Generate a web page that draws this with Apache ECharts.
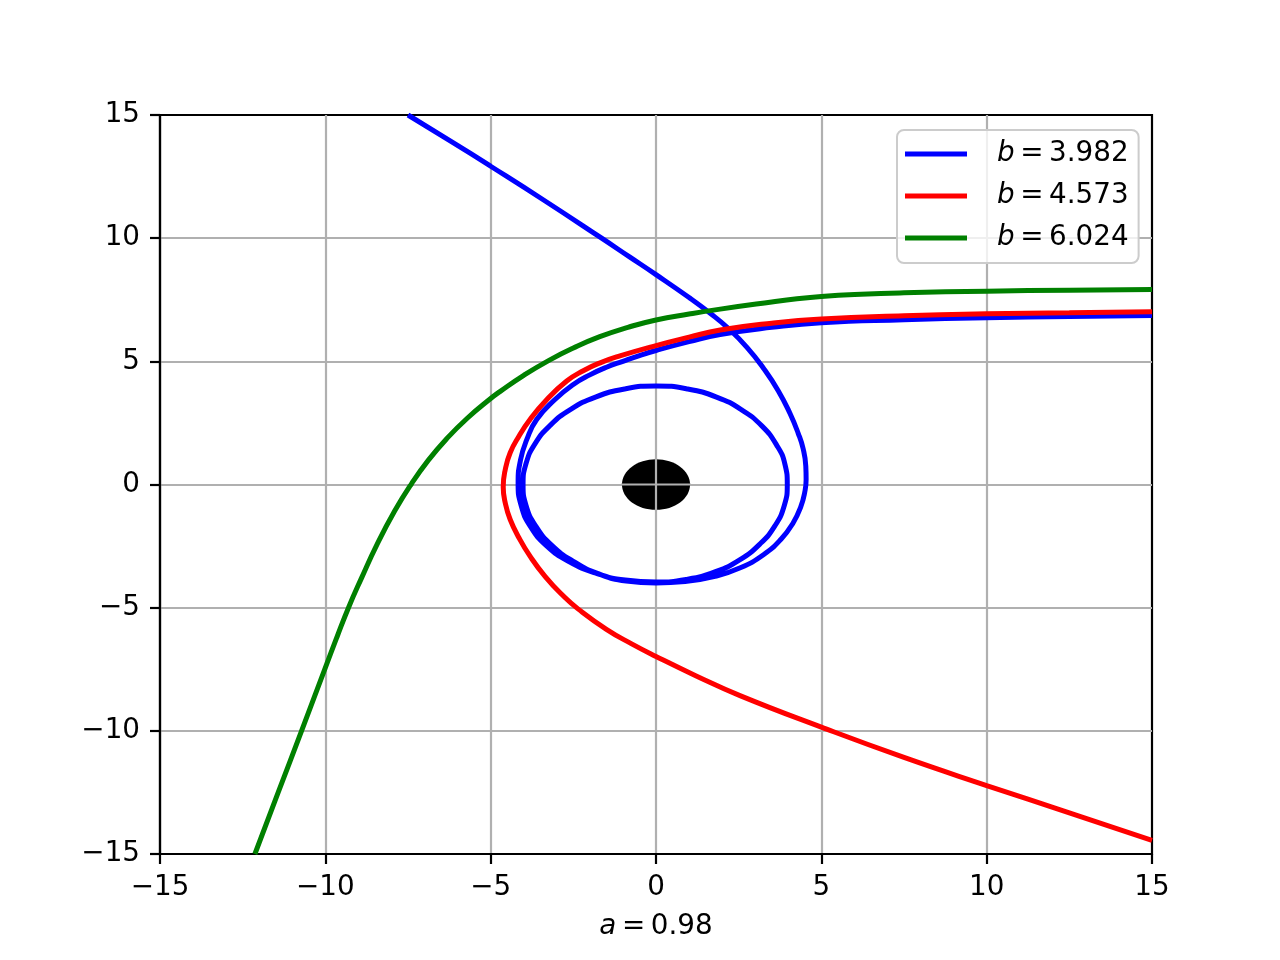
<!DOCTYPE html>
<html>
<head>
<meta charset="utf-8">
<script src="https://cdn.jsdelivr.net/npm/echarts@6/dist/echarts.min.js"></script>
<style>
html,body{margin:0;padding:0;background:#ffffff;}
#chart{width:1280px;height:960px;}
</style>
</head>
<body>
<div id="chart"></div>
<script>
// ---- data ----
const axisRange = [-15, 15];
const tickStep = 5;
const seriesNames = ['b = 3.982', 'b = 4.573', 'b = 6.024'];
const xAxisTitle = 'a = 0.98';

// black hole disk: [centerX, centerY, radius]
const horizon = [[0, 0, 1.03]];

const blueTrajectory = [
  [-7.5,15.0],[-6.2,13.93],[-5.0,12.92],[-3.4,11.55],[-1.69,10.04],[-0.8,9.24],[0.0,8.52],
  [1.0,7.59],[1.63,6.96],[2.16,6.37],[2.75,5.57],[3.25,4.72],[3.7,3.8],[4.05,2.89],
  [4.3,2.08],[4.45,1.45],[4.53,0.75],[4.54,0.2],[4.5,-0.3],[4.38,-0.9],[4.15,-1.55],
  [3.78,-2.22],[3.25,-2.85],[2.55,-3.38],[1.75,-3.74],[0.88,-3.94],[0.0,-4.0],
  [-0.9,-3.92],[-1.75,-3.62],[-2.5,-3.12],[-3.15,-2.47],[-3.63,-1.7],[-3.93,-0.85],
  [-4.02,0.0],[-3.93,0.85],[-3.66,1.65],[-3.2,2.4],[-2.58,3.05],[-1.83,3.55],[-0.95,3.88],
  [0.0,4.0],[0.95,3.88],[1.83,3.55],[2.58,3.04],[3.2,2.38],[3.64,1.62],[3.9,0.82],
  [3.97,0.0],[3.88,-0.85],[3.6,-1.67],[3.14,-2.42],[2.53,-3.06],[1.8,-3.54],[0.93,-3.85],
  [0.0,-3.96],
  [-0.93,-3.88],[-1.82,-3.6],[-2.62,-3.14],[-3.3,-2.5],[-3.8,-1.7],[-4.08,-0.85],
  [-4.17,0.05],[-4.1,0.98],[-3.9,1.85],[-3.61,2.64],[-3.08,3.42],[-2.5,4.06],[-2.0,4.45],
  [-1.5,4.76],[-1.0,5.0],[-0.5,5.23],[0.0,5.44],[1.0,5.8],[1.94,6.09],[3.5,6.38],
  [5.0,6.57],[7.5,6.69],[10.0,6.77],[12.5,6.82],[15.0,6.86]
];

const redTrajectory = [
  [15.0,7.01],[12.5,6.97],[10.0,6.93],[7.5,6.85],[5.0,6.72],[3.5,6.55],[1.94,6.27],
  [1.0,5.98],[0.0,5.64],[-1.09,5.22],[-1.69,4.94],[-2.2,4.62],[-2.7,4.2],[-3.3,3.45],
  [-3.81,2.64],[-4.15,1.95],[-4.41,1.29],[-4.56,0.6],[-4.62,-0.1],[-4.55,-0.8],
  [-4.41,-1.42],[-4.15,-2.15],[-3.81,-2.91],[-3.35,-3.74],[-2.8,-4.53],[-2.35,-5.06],
  [-1.5,-5.88],[-0.75,-6.46],[0.0,-6.98],[1.2,-7.76],[2.54,-8.57],[5.0,-9.85],
  [7.5,-11.08],[10.0,-12.22],[12.5,-13.33],[15.0,-14.45]
];

const greenTrajectory = [
  [15.0,7.92],[12.5,7.89],[10.0,7.85],[7.5,7.78],[6.2,7.72],[5.0,7.63],[4.2,7.53],
  [3.5,7.41],[1.94,7.12],[1.0,6.92],[0.0,6.68],[-0.85,6.38],[-1.7,6.0],[-2.5,5.54],
  [-3.25,5.03],[-4.0,4.43],[-4.72,3.77],[-5.0,3.49],[-5.7,2.7],[-6.33,1.86],[-6.9,0.96],
  [-7.39,0.04],[-7.9,-1.07],[-8.45,-2.47],[-8.9,-3.78],[-9.3,-5.0],[-9.65,-6.2],
  [-10.01,-7.47],[-10.71,-9.97],[-11.42,-12.48],[-12.13,-15.0]
];

const trajectories = [blueTrajectory, redTrajectory, greenTrajectory];
const colors = ['#0000ff', '#ff0000', '#008000'];

// ---- chart ----
const FONT = 'DejaVu Sans';
const FS = 27.8;
const LW = 5.0;
const THIN = '\u2009';
const fmtTick = v => String(v).replace('-', '\u2212');
const mathText = s => s.replace(/ /g, THIN);

const chart = echarts.init(document.getElementById('chart'), null, {renderer: 'canvas'});

const lineSeries = trajectories.map((d, i) => ({
  name: seriesNames[i],
  type: 'line',
  data: d,
  showSymbol: false,
  symbol: 'none',
  smooth: 0.5,
  clip: true,
  lineStyle: {color: colors[i], width: LW},
  itemStyle: {color: colors[i]},
  z: 3 + i
}));

const axisCommon = {
  type: 'value',
  min: axisRange[0],
  max: axisRange[1],
  interval: tickStep,
  axisLine: {show: true, onZero: false, lineStyle: {color: '#000', width: 2.2}},
  axisTick: {show: true, inside: false, length: 10, lineStyle: {color: '#000', width: 2.2}},
  splitLine: {show: true, showMinLine: false, showMaxLine: false, lineStyle: {color: '#b0b0b0', width: 2.2}},
  axisLabel: {fontFamily: FONT, fontSize: FS, color: '#000', formatter: fmtTick}
};

const option = {
  animation: false,
  backgroundColor: '#ffffff',
  grid: {left: 160, right: 128, top: 115, bottom: 106, show: true, borderColor: '#000', borderWidth: 2.2, backgroundColor: 'transparent'},
  xAxis: Object.assign({}, axisCommon, {
    position: 'bottom',
    axisLabel: Object.assign({}, axisCommon.axisLabel, {margin: 20}),
    name: '{i|a}{t|' + mathText(xAxisTitle.slice(1)) + '}',
    nameLocation: 'middle',
    nameGap: 59,
    nameTextStyle: {
      rich: {
        i: {fontFamily: FONT, fontStyle: 'italic', fontSize: FS, color: '#000'},
        t: {fontFamily: FONT, fontSize: FS, color: '#000'}
      }
    }
  }),
  yAxis: Object.assign({}, axisCommon, {
    position: 'left',
    axisLabel: Object.assign({}, axisCommon.axisLabel, {margin: 20})
  }),
  legend: {
    data: seriesNames,
    orient: 'vertical',
    left: 897,
    top: 130,
    icon: 'rect',
    itemWidth: 62,
    itemHeight: LW,
    itemGap: 14,
    padding: [10, 10, 11, 8],
    borderColor: '#cccccc',
    borderWidth: 2,
    borderRadius: 7,
    backgroundColor: 'rgba(255,255,255,0.8)',
    formatter: name => '{i|b}{t|' + mathText(name.slice(1)) + '}',
    textStyle: {
      rich: {
        i: {fontFamily: FONT, fontStyle: 'italic', fontSize: FS, color: '#000', padding: [0, 0, 0, 25]},
        t: {fontFamily: FONT, fontSize: FS, color: '#000'}
      }
    }
  },
  series: [
    {
      type: 'custom',
      name: 'horizon',
      data: horizon,
      encode: {x: 0, y: 1},
      z: 2,
      silent: true,
      renderItem: function (params, api) {
        const cx = api.value(0), cy = api.value(1), r = api.value(2);
        const c = api.coord([cx, cy]);
        const px = api.coord([cx + r, cy]);
        const py = api.coord([cx, cy + r]);
        const rx = Math.abs(px[0] - c[0]);
        const ry = Math.abs(py[1] - c[1]);
        return {
          type: 'group',
          children: [
            {type: 'ellipse', shape: {cx: c[0], cy: c[1], rx: rx, ry: ry}, style: {fill: '#000'}},
            {type: 'line', shape: {x1: c[0] - rx - 1, y1: c[1], x2: c[0] + rx + 1, y2: c[1]}, style: {stroke: '#b0b0b0', lineWidth: 2.2}},
            {type: 'line', shape: {x1: c[0], y1: c[1] - ry - 1, x2: c[0], y2: c[1] + ry + 1}, style: {stroke: '#b0b0b0', lineWidth: 2.2}}
          ]
        };
      }
    }
  ].concat(lineSeries)
};

chart.setOption(option);
</script>
</body>
</html>
